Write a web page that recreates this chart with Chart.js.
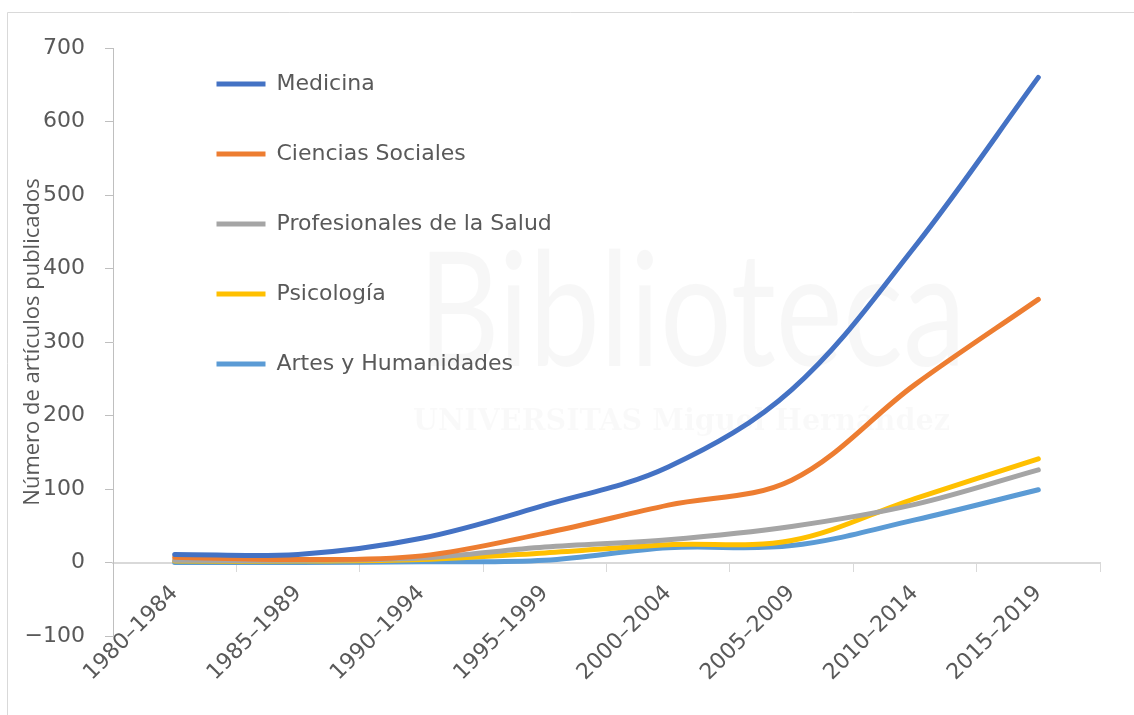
<!DOCTYPE html>
<html>
<head>
<meta charset="utf-8">
<script src="https://cdn.jsdelivr.net/npm/chart.js@4/dist/chart.umd.min.js"></script>
<style>
  html, body { margin: 0; padding: 0; background: #fff; }
  #wrap { width: 1134px; height: 715px; position: relative; }
</style>
</head>
<body>
<div id="wrap"><canvas id="chart" width="1134" height="715"></canvas></div>
<script>
// periods on the x axis
const periods = ["1980–1984", "1985–1989", "1990–1994", "1995–1999",
                 "2000–2004", "2005–2009", "2010–2014", "2015–2019"];

// articles per area
const medicina = [11, 11, 33, 78, 130, 235, 430, 660];
const cienciasSociales = [7, 4, 9, 40, 78, 112, 242, 358];
const profesionalesSalud = [3, 3, 6, 21, 31, 49, 79, 126];
const psicologia = [2, 2, 4, 13, 24, 30, 87, 141];
const artesHumanidades = [0, 0, 1, 3, 20, 23, 58, 99];

const yTicks = [-100, 0, 100, 200, 300, 400, 500, 600, 700];

const textColor = "#595959";
const tickFont = { family: "DejaVu Sans", size: 22 };

function line(label, data, color) {
  return {
    label,
    data,
    borderColor: color,
    backgroundColor: color,
    borderWidth: 5,
    borderCapStyle: "round",
    pointRadius: 0,
    pointStyle: "line",
    tension: 0.35,
    fill: false,
  };
}

// page frame and the faint library watermark behind the lines
const backdrop = {
  id: "backdrop",
  beforeDraw(chart) {
    const ctx = chart.ctx;
    ctx.save();
    ctx.fillStyle = "#fff";
    ctx.fillRect(0, 0, chart.width, chart.height);
    ctx.strokeStyle = "#d9d9d9";
    ctx.lineWidth = 1;
    ctx.beginPath();
    ctx.moveTo(7.5, chart.height);
    ctx.lineTo(7.5, 12.5);
    ctx.lineTo(chart.width, 12.5);
    ctx.stroke();

    ctx.fillStyle = "rgba(0,0,0,0.03)";
    ctx.textBaseline = "alphabetic";
    ctx.font = "160px Lato";
    ctx.fillText("Biblioteca", 418, 366, 548);
    ctx.fillStyle = "rgba(0,0,0,0.025)";
    ctx.font = "bold 30px 'DejaVu Serif'";
    ctx.fillText("UNIVERSITAS Miguel Hernández", 413, 430, 537);
    ctx.restore();
  },
};

// move the legend to where the original sits inside the plot
const legendSpot = {
  id: "legendSpot",
  afterLayout(chart) {
    const lg = chart.legend;
    const w = lg.width;
    lg.left = 168.5;
    lg.top = 25;
    lg.right = lg.left + w;
    lg.bottom = lg.top + 600;
  },
};

new Chart(document.getElementById("chart"), {
  type: "line",
  data: {
    labels: periods,
    datasets: [
      line("Medicina", medicina, "#4472C4"),
      line("Ciencias Sociales", cienciasSociales, "#ED7D31"),
      line("Profesionales de la Salud", profesionalesSalud, "#A5A5A5"),
      line("Psicología", psicologia, "#FFC000"),
      line("Artes y Humanidades", artesHumanidades, "#5B9BD5"),
    ],
  },
  options: {
    responsive: false,
    animation: false,
    layout: { padding: { top: 48, right: 34, bottom: 79, left: 0 } },
    plugins: {
      tooltip: { enabled: false },
      legend: {
        position: "chartArea",
        align: "start",
        labels: {
          color: textColor,
          font: { family: "DejaVu Sans", size: 22 },
          usePointStyle: true,
          pointStyle: "line",
          pointStyleWidth: 49,
          padding: 48,
        },
      },
    },
    scales: {
      x: {
        type: "category",
        position: { y: 0 },
        offset: true,
        grid: {
          drawOnChartArea: false,
          drawTicks: true,
          tickLength: 8,
          color: "#d9d9d9",
          offset: true,
        },
        border: { color: "#d9d9d9", width: 2 },
        ticks: {
          color: textColor,
          font: tickFont,
          minRotation: 45,
          maxRotation: 45,
          padding: 10,
          autoSkip: false,
        },
        afterFit(scale) {
          scale.height = 80;
          scale.paddingLeft = 0;
          scale.paddingRight = 0;
        },
      },
      y: {
        min: -100,
        max: 700,
        afterBuildTicks(scale) {
          scale.ticks = yTicks.map((v) => ({ value: v }));
        },
        grid: {
          drawOnChartArea: false,
          drawTicks: true,
          tickLength: 8,
          color: "#bfbfbf",
        },
        border: { color: "#bfbfbf", width: 1 },
        ticks: {
          color: textColor,
          font: tickFont,
          padding: 20,
          callback: (v) => String(v).replace("-", "−"),
        },
        title: {
          display: true,
          text: "Número de artículos publicados",
          color: textColor,
          font: { family: "Open Sans", size: 22 },
          padding: { top: 20, bottom: 0 },
        },
        afterFit(scale) {
          scale.width = 113;
        },
      },
    },
  },
  plugins: [backdrop, legendSpot],
});
</script>
</body>
</html>
